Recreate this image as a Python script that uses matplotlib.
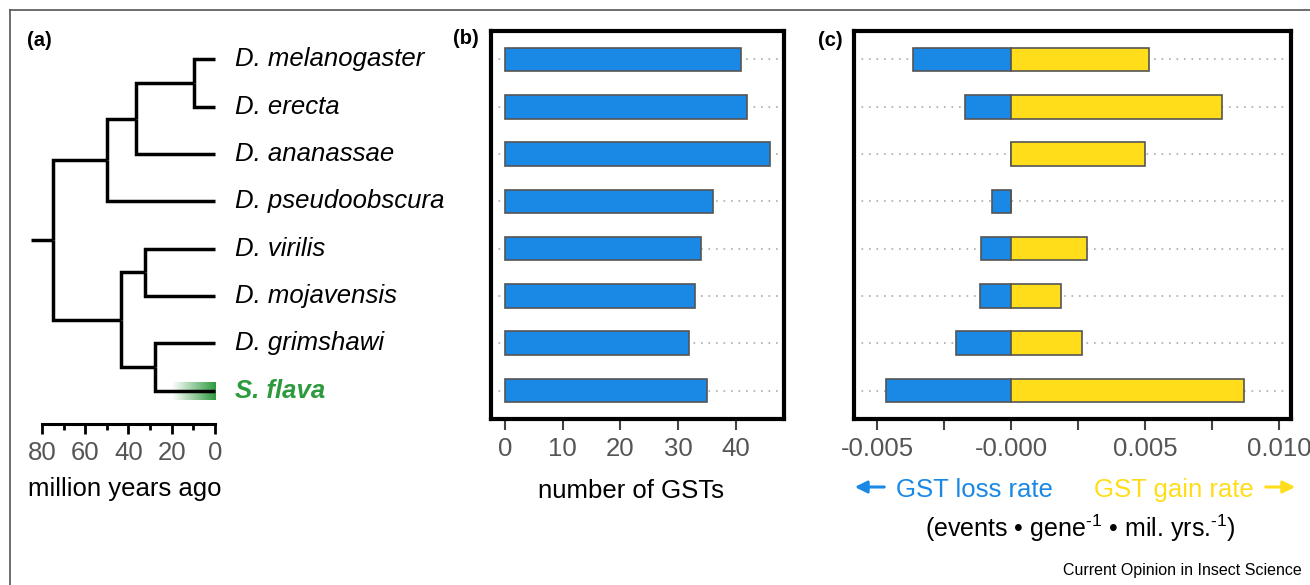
import numpy as np
import matplotlib.pyplot as plt
from matplotlib.lines import Line2D
from matplotlib.patches import FancyArrowPatch

plt.rcParams['font.family'] = ['Liberation Sans', 'DejaVu Sans']
plt.rcParams['mathtext.fontset'] = 'custom'
plt.rcParams['mathtext.rm'] = 'Liberation Sans'
plt.rcParams['mathtext.it'] = 'Liberation Sans:italic'

# Data
species = ["D. melanogaster", "D. erecta", "D. ananassae", "D. pseudoobscura",
           "D. virilis", "D. mojavensis", "D. grimshawi", "S. flava"]
n_gst = [41, 42, 46, 36, 34, 33, 32, 35]
loss_rate = [-0.00366, -0.00172, 0.0, -0.00071, -0.00113, -0.00116, -0.00204, -0.00468]
gain_rate = [0.00515, 0.00789, 0.00500, 0.0, 0.00284, 0.00188, 0.00264, 0.00871]

# internal nodes of the tree: children, age (million years ago)
nodes = {
    "mel_ere": (["D. melanogaster", "D. erecta"], 9.7),
    "mel_ana": (["mel_ere", "D. ananassae"], 36.5),
    "mel_pse": (["mel_ana", "D. pseudoobscura"], 50.0),
    "vir_moj": (["D. virilis", "D. mojavensis"], 32.4),
    "gri_fla": (["D. grimshawi", "S. flava"], 27.7),
    "vir_fla": (["vir_moj", "gri_fla"], 43.5),
    "root": (["mel_pse", "vir_fla"], 75.0),
}
root_stem = 85.0
flava_fade = 20.0
scale_major = [0, 20, 40, 60, 80]
scale_minor = [10, 30, 50, 70]

gst_ticks = [0, 10, 20, 30, 40]
rate_ticks = [-0.005, -0.0025, 0.0, 0.0025, 0.005, 0.0075, 0.010]
rate_labels = ["-0.005", "", "-0.000", "", "0.005", "", "0.010"]

blue = "#1a89e6"
yellow = "#ffdd1a"
green = "#2e9a3e"
grey_txt = "#555555"

W, H = 1310, 585
fig = plt.figure(figsize=(W / 100, H / 100), dpi=100)


def px(x, y):
    return x / W, 1 - y / H


def ax_rect(x0, y0, x1, y1):
    return [x0 / W, 1 - y1 / H, (x1 - x0) / W, (y1 - y0) / H]


rows = np.arange(len(species))
ylim = (7.6, -0.6)

# (a) tree
axa = fig.add_axes(ax_rect(20, 31, 460, 419))
axa.axis("off")
ypos = {s: i for i, s in enumerate(species)}
age = {s: 0.0 for s in species}
for name, (kids, a) in nodes.items():
    ypos[name] = np.mean([ypos[k] for k in kids])
    age[name] = a
for name, (kids, a) in nodes.items():
    for k in kids:
        axa.plot([a, a, age[k]], [ypos[name], ypos[k], ypos[k]], color="black",
                 lw=2.5, solid_joinstyle="miter", solid_capstyle="butt", zorder=3,
                 clip_on=False)
axa.plot([root_stem, nodes["root"][1]], [ypos["root"]] * 2, color="black", lw=2.5,
         solid_capstyle="butt", zorder=3, clip_on=False)

grad = np.zeros((1, 256, 4))
grad[..., :3] = plt.matplotlib.colors.to_rgb(green)
grad[..., 3] = np.linspace(0, 1, 256)
iy = ypos["S. flava"]
axa.imshow(grad, extent=(flava_fade, 0, iy + 0.19, iy - 0.19), aspect="auto", zorder=2)

for s in species:
    if s == "S. flava":
        axa.text(-9.25, ypos[s], s, ha="left", va="center", fontsize=18.5,
                 style="italic", weight="bold", color=green)
    else:
        axa.text(-9.25, ypos[s], s, ha="left", va="center", fontsize=18.5,
                 style="italic", color="black")
axa.set_xlim(90.17, -113.29)
axa.set_ylim(*ylim)

axs = fig.add_axes(ax_rect(20, 423.9, 460, 424))
axs.patch.set_visible(False)
for sp in ["left", "right", "top"]:
    axs.spines[sp].set_visible(False)
axs.spines["bottom"].set_linewidth(2.2)
axs.spines["bottom"].set_bounds(0, 80)
axs.set_xlim(90.17, -113.29)
axs.set_yticks([])
axs.set_xticks(scale_major)
axs.set_xticks(scale_minor, minor=True)
axs.tick_params(axis="x", which="major", length=7.5, width=2, pad=5,
                labelsize=18.5, labelcolor=grey_txt)
axs.tick_params(axis="x", which="minor", length=4, width=2)

# (b) number of GSTs
axb = fig.add_axes(ax_rect(491, 31, 784, 419))
for r in rows:
    axb.axhline(r, color="#aaaaaa", lw=1.2, ls=(0, (1, 3.5)), zorder=1)
axb.barh(rows, n_gst, height=0.5, color=blue, edgecolor="#555555", lw=1.2, zorder=3)
axb.set_xlim(-2.43, 48.4)
axb.set_ylim(*ylim)

# (c) loss / gain rates
axc = fig.add_axes(ax_rect(854, 31, 1291, 419))
for r in rows:
    axc.axhline(r, color="#aaaaaa", lw=1.2, ls=(0, (1, 3.5)), zorder=1)
axc.barh(rows, loss_rate, height=0.5, color=blue, edgecolor="#555555", lw=1.2, zorder=3)
axc.barh(rows, gain_rate, height=0.5, color=yellow, edgecolor="#555555", lw=1.2, zorder=3)
axc.set_xlim(-0.00586, 0.01045)
axc.set_ylim(*ylim)

for ax, ticks in [(axb, gst_ticks), (axc, rate_ticks)]:
    for sp in ax.spines.values():
        sp.set_linewidth(3)
    ax.set_yticks([])
    ax.set_xticks(ticks)
    ax.tick_params(axis="x", length=8, width=1.5, color="#444444", pad=5,
                   labelsize=18.5, labelcolor=grey_txt)
axc.set_xticklabels(rate_labels)

# texts
fig.text(*px(125, 489), "million years ago", ha="center", va="center", fontsize=18.5)
fig.text(*px(631, 491), "number of GSTs", ha="center", va="center", fontsize=18.5)
fig.text(*px(974, 490), "GST loss rate", ha="center", va="center", fontsize=18.5, color=blue)
fig.text(*px(1174, 490), "GST gain rate", ha="center", va="center", fontsize=18.5, color=yellow)
fig.text(*px(1080, 528), r"(events • gene$^{\text{-1}}$ • mil. yrs.$^{\text{-1}}$)",
         ha="center", va="center", fontsize=18)
fig.text(*px(1302, 571), "Current Opinion in Insect Science", ha="right", va="center",
         fontsize=11.5)
for lab, x, y in [("(a)", 27, 40), ("(b)", 453, 39), ("(c)", 818, 40)]:
    fig.text(*px(x, y), lab, ha="left", va="center", fontsize=14.5, weight="bold")

for (x0, x1), c in [((887, 852), blue), ((1263, 1298), yellow)]:
    fig.add_artist(FancyArrowPatch(px(x0, 487), px(x1, 487), transform=fig.transFigure,
                                   arrowstyle="-|>,head_length=0.6,head_width=0.3",
                                   mutation_scale=12, lw=2.2, color=c))

# outer frame
fig.add_artist(Line2D([10 / W, 10 / W], [0, 1 - 10 / H], color="#555555", lw=1.2))
fig.add_artist(Line2D([10 / W, 1], [1 - 10 / H, 1 - 10 / H], color="#555555", lw=1.2))

fig.savefig("out.png", dpi=100)
